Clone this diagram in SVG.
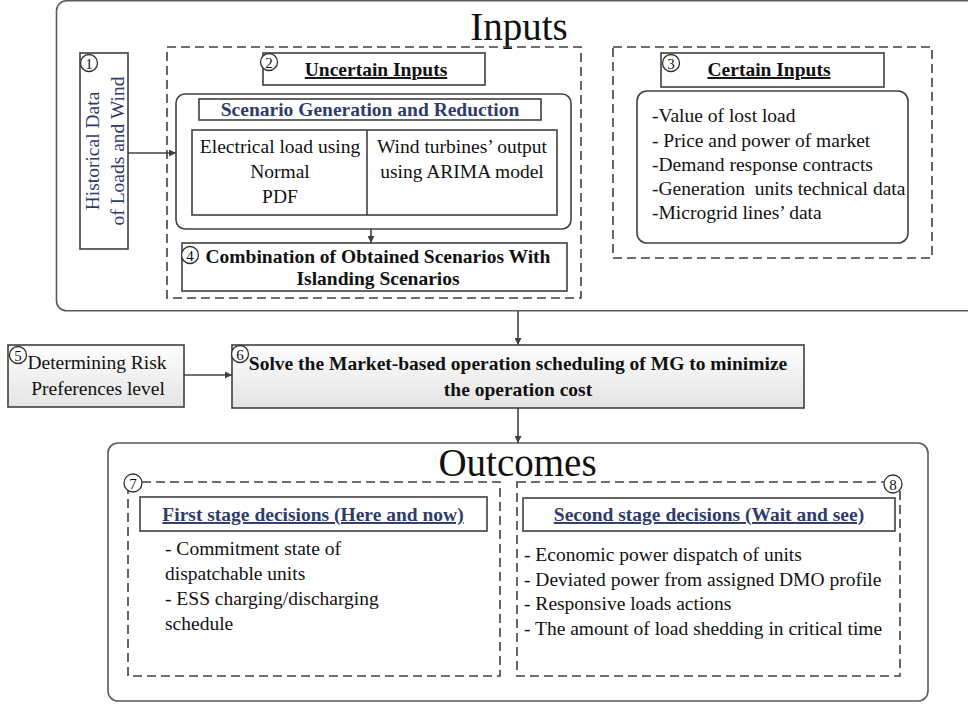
<svg xmlns="http://www.w3.org/2000/svg" width="968" height="704" viewBox="0 0 968 704">
  <defs>
    <marker id="arrow" viewBox="0 0 10 10" refX="10" refY="5" markerWidth="7" markerHeight="7" markerUnits="userSpaceOnUse" orient="auto">
      <path d="M0,0 L10,5 L0,10 z" fill="#404040"/>
    </marker>
    <linearGradient id="boxFill" x1="0" y1="0" x2="0" y2="1">
      <stop offset="0" stop-color="#fdfdfd"/>
      <stop offset="1" stop-color="#e4e4e4"/>
    </linearGradient>
    <style>
      .outer { fill: none; stroke: #5a5a5a; stroke-width: 1.6; }
      .dash { fill: none; stroke: #404040; stroke-width: 1.6; stroke-dasharray: 9 5; }
      .box { fill: #ffffff; stroke: #404040; stroke-width: 1.6; }
      .grad { fill: url(#boxFill); stroke: #404040; stroke-width: 1.6; }
      .line { fill: none; stroke: #404040; stroke-width: 1.6; }
      .conn { fill: none; stroke: #404040; stroke-width: 1.6; marker-end: url(#arrow); }
      .num circle { fill: #ffffff; stroke: #303030; stroke-width: 1.3; }
      .num text { font-family: "Liberation Serif", "Times New Roman", serif; font-size: 15px; text-anchor: middle; fill: #111; }
      text { font-family: "Liberation Serif", "Times New Roman", serif; fill: #111; }
      .title { font-size: 39px; text-anchor: middle; }
      .body { font-size: 19.5px; }
      .mid { text-anchor: middle; }
      .bold { font-weight: bold; }
      .ul { text-decoration: underline; }
      .navy { fill: #2f3c6b; }
    </style>
  </defs>

  <!-- Inputs panel -->
  <g id="inputs">
    <rect class="outer" x="56.5" y="0.8" width="1000" height="310" rx="10"/>
    <text class="title" x="519" y="40" font-size="38">Inputs</text>
  </g>

  <!-- 1: historical data -->
  <g id="historical-data">
    <rect class="box" x="80" y="53" width="48" height="196"/>
    <g transform="rotate(-90)">
      <text class="body mid navy" x="-151" y="99" font-size="21">Historical Data</text>
      <text class="body mid navy" x="-151" y="124" font-size="21">of Loads and Wind</text>
    </g>
    <g class="num"><circle cx="89" cy="63" r="8.5"/><text x="89" y="68.5">1</text></g>
  </g>

  <!-- 2: uncertain inputs -->
  <g id="uncertain-inputs">
    <rect class="dash" x="167" y="47" width="414" height="251"/>
    <rect class="box" x="263" y="53" width="222" height="32"/>
    <text class="body mid bold ul" x="376" y="76" font-size="19">Uncertain Inputs</text>
    <g class="num"><circle cx="269" cy="62" r="8.5"/><text x="269" y="67.5">2</text></g>
  </g>

  <!-- scenario generation and reduction -->
  <g id="scenario-generation">
    <rect class="box" x="176" y="94" width="395" height="135" rx="9"/>
    <rect class="box" x="199" y="99" width="342" height="21"/>
    <text class="body mid bold navy" x="370" y="116">Scenario Generation and Reduction</text>
    <rect class="box" x="192" y="130" width="365" height="85"/>
    <line class="line" x1="367" y1="130" x2="367" y2="215"/>
    <text class="body mid" x="280" y="153">Electrical load using</text>
    <text class="body mid" x="280" y="178">Normal</text>
    <text class="body mid" x="280" y="203">PDF</text>
    <text class="body mid" x="462" y="153">Wind turbines’ output</text>
    <text class="body mid" x="462" y="178">using ARIMA model</text>
  </g>

  <!-- 4: combination of scenarios -->
  <g id="combination">
    <rect class="box" x="182" y="243" width="385" height="48"/>
    <text class="body mid bold" x="378" y="263">Combination of Obtained Scenarios With</text>
    <text class="body mid bold" x="378" y="285">Islanding Scenarios</text>
    <g class="num"><circle cx="190" cy="255" r="8.5"/><text x="190" y="260.5">4</text></g>
  </g>

  <!-- 3: certain inputs -->
  <g id="certain-inputs">
    <rect class="dash" x="613" y="47" width="319" height="211"/>
    <rect class="box" x="661" y="53" width="223" height="34"/>
    <text class="body mid bold ul" x="769" y="76">Certain Inputs</text>
    <g class="num"><circle cx="671" cy="63" r="8.5"/><text x="671" y="68.5">3</text></g>
    <rect class="box" x="637" y="91" width="271" height="152" rx="10"/>
    <text class="body" x="652" y="122">-Value of lost load</text>
    <text class="body" x="652" y="146.5" xml:space="preserve">- Price and power of market</text>
    <text class="body" x="652" y="171">-Demand response contracts</text>
    <text class="body" x="652" y="195" xml:space="preserve">-Generation  units technical data</text>
    <text class="body" x="652" y="219">-Microgrid lines’ data</text>
  </g>

  <!-- 5: risk preferences -->
  <g id="risk-level">
    <rect class="grad" x="8" y="345" width="176" height="62"/>
    <text class="body mid" x="97" y="369">Determining Risk</text>
    <text class="body mid" x="98" y="395">Preferences level</text>
    <g class="num"><circle cx="18" cy="355" r="8.5"/><text x="18" y="360.5">5</text></g>
  </g>

  <!-- 6: scheduling problem -->
  <g id="scheduling">
    <rect class="grad" x="232" y="345" width="572" height="63"/>
    <text class="body mid bold" x="518" y="370">Solve the Market-based operation scheduling of MG to minimize</text>
    <text class="body mid bold" x="518" y="396">the operation cost</text>
    <g class="num"><circle cx="240" cy="354" r="8.5"/><text x="240" y="359.5">6</text></g>
  </g>

  <!-- Outcomes panel -->
  <g id="outcomes">
    <rect class="outer" x="108" y="443" width="820" height="258" rx="10"/>
    <text class="title" x="517.5" y="476">Outcomes</text>
  </g>

  <!-- 7: first stage decisions -->
  <g id="first-stage">
    <rect class="dash" x="128" y="482" width="372" height="194"/>
    <rect class="box" x="140" y="497" width="347" height="34"/>
    <text class="body mid bold ul navy" x="313" y="521">First stage decisions (Here and now)</text>
    <text class="body" x="165" y="555">- Commitment state of</text>
    <text class="body" x="165" y="580">dispatchable units</text>
    <text class="body" x="165" y="605">- ESS charging/discharging</text>
    <text class="body" x="165" y="630">schedule</text>
    <g class="num"><circle cx="133" cy="483" r="9"/><text x="133" y="488.5">7</text></g>
  </g>

  <!-- 8: second stage decisions -->
  <g id="second-stage">
    <rect class="dash" x="517" y="482" width="383" height="194"/>
    <rect class="box" x="523" y="498" width="372" height="33"/>
    <text class="body mid bold ul navy" x="709" y="521">Second stage decisions (Wait and see)</text>
    <text class="body" x="524" y="561">- Economic power dispatch of units</text>
    <text class="body" x="524" y="585.5">- Deviated power from assigned DMO profile</text>
    <text class="body" x="524" y="610">- Responsive loads actions</text>
    <text class="body" x="524" y="634.5">- The amount of load shedding in critical time</text>
    <g class="num"><circle cx="893" cy="484" r="9"/><text x="893" y="489.5">8</text></g>
  </g>

  <!-- connectors -->
  <g id="connectors">
    <line class="conn" x1="128" y1="153" x2="176" y2="153"/>
    <line class="conn" x1="371" y1="229" x2="371" y2="243"/>
    <line class="conn" x1="518" y1="311" x2="518" y2="345"/>
    <line class="conn" x1="184" y1="375" x2="232" y2="375"/>
    <line class="conn" x1="518" y1="408" x2="518" y2="443"/>
  </g>
</svg>
